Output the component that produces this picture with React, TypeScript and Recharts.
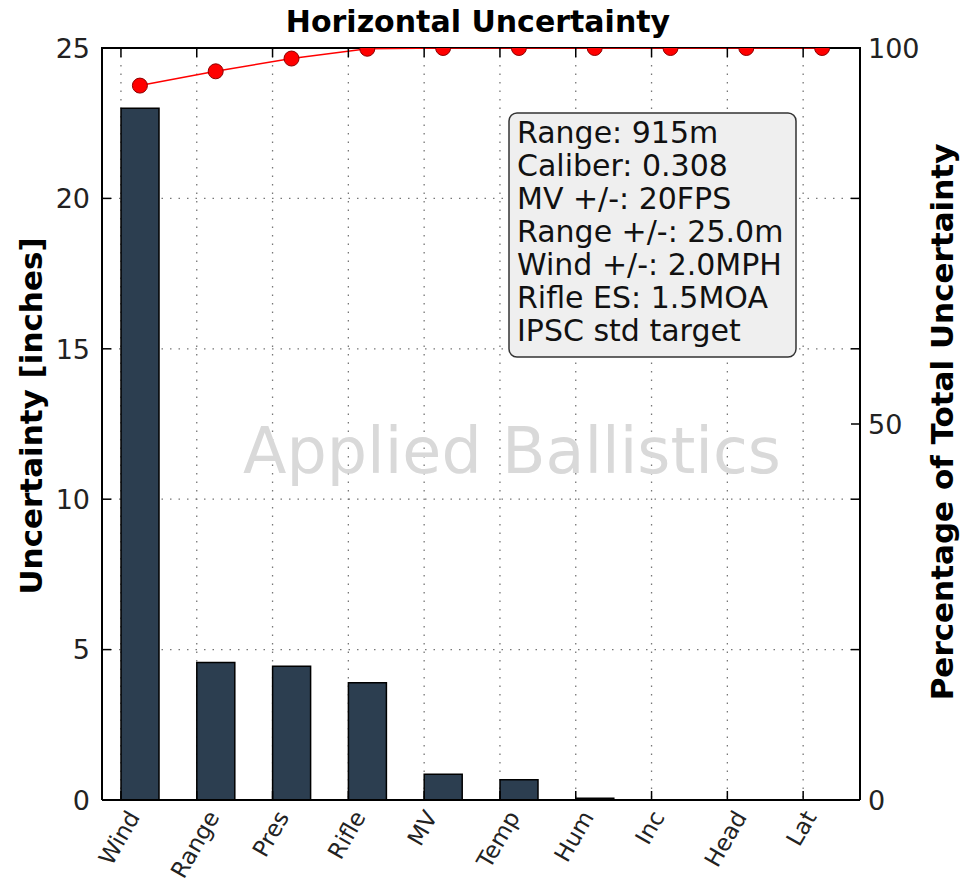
import React from 'react';
import {
  ComposedChart, Bar, Line, XAxis, YAxis, CartesianGrid, Customized,
} from 'recharts';

// ---- data ----
const categories = ['Wind', 'Range', 'Pres', 'Rifle', 'MV', 'Temp', 'Hum', 'Inc', 'Head', 'Lat'];
const uncertaintyInches = [23.0, 4.57, 4.45, 3.9, 0.86, 0.67, 0.06, 0.012, 0.008, 0.005];
const cumulativePercent = [95.0, 96.9, 98.6, 99.9, 100, 100, 100, 100, 100, 100];
const leftTicks = [0, 5, 10, 15, 20, 25];
const rightTicks = [0, 50, 100];
const infoLines = [
  'Range: 915m',
  'Caliber: 0.308',
  'MV +/-: 20FPS',
  'Range +/-: 25.0m',
  'Wind +/-: 2.0MPH',
  'Rifle ES: 1.5MOA',
  'IPSC std target',
];
const titleText = 'Horizontal Uncertainty';
const leftLabel = 'Uncertainty [inches]';
const rightLabel = 'Percentage of Total Uncertainty';
const watermark = 'Applied Ballistics';

const data = categories.map((name, i) => ({
  name,
  inches: uncertaintyInches[i],
  pct: cumulativePercent[i],
}));

// ---- layout ----
const W = 960;
const H = 884;
const PLOT_LEFT = 102;
const PLOT_RIGHT = 860;
const PLOT_TOP = 48;
const PLOT_BOTTOM = 800;
const PLOT_W = PLOT_RIGHT - PLOT_LEFT;
const BAND = PLOT_W / categories.length;
const FONT = '"DejaVu Sans", Verdana, sans-serif';
const XFS = 23;
const TICK_LEN = 9;

let ctx: CanvasRenderingContext2D | null = null;
function measure(text: string, size: number, weight = 'normal') {
  if (!ctx) {
    const c = document.createElement('canvas');
    ctx = c.getContext('2d');
  }
  if (!ctx) return text.length * size * 0.6;
  ctx.font = `${weight} ${size}px "DejaVu Sans"`;
  return ctx.measureText(text).width;
}

function XTick(props: any) {
  const { x, y, payload } = props;
  const tx = x - BAND / 4;
  const L = measure(String(payload.value), XFS);
  const a = 0.76 * XFS;
  const d = 0.24 * XFS;
  const ex = tx + 0.25 * L + 0.433 * (a - d);
  const ey = y + 0.5 * a;
  return (
    <g>
      <line x1={tx} y1={PLOT_BOTTOM} x2={tx} y2={PLOT_BOTTOM - TICK_LEN} stroke="#000" strokeWidth={1.5} />
      <line x1={tx} y1={PLOT_TOP} x2={tx} y2={PLOT_TOP + TICK_LEN} stroke="#000" strokeWidth={1.5} />
      <text
        x={ex}
        y={ey}
        textAnchor="end"
        transform={`rotate(-60 ${ex} ${ey})`}
        fontSize={XFS}
        fontFamily={FONT}
        fill="#222"
      >
        {payload.value}
      </text>
    </g>
  );
}

function LeftTick(props: any) {
  const { x, y, payload } = props;
  const v = payload.value;
  const inner = v !== 0 && v !== 25;
  return (
    <g>
      {inner && (
        <>
          <line x1={PLOT_LEFT} y1={y} x2={PLOT_LEFT + TICK_LEN} y2={y} stroke="#000" strokeWidth={1.5} />
          <line x1={PLOT_RIGHT} y1={y} x2={PLOT_RIGHT - TICK_LEN} y2={y} stroke="#000" strokeWidth={1.5} />
        </>
      )}
      <text x={x} y={y} dy="0.36em" textAnchor="end" fontSize={27} fontFamily={FONT} fill="#222">
        {v}
      </text>
    </g>
  );
}

function RightTick(props: any) {
  const { x, y, payload } = props;
  const v = payload.value;
  const inner = v !== 0 && v !== 100;
  return (
    <g>
      {inner && (
        <line x1={PLOT_RIGHT} y1={y} x2={PLOT_RIGHT - TICK_LEN} y2={y} stroke="#000" strokeWidth={1.5} />
      )}
      <text x={x} y={y} dy="0.36em" textAnchor="start" fontSize={27} fontFamily={FONT} fill="#222">
        {v}
      </text>
    </g>
  );
}

function ClippedDot(props: any) {
  const { cx, cy, index } = props;
  if (cx == null || cy == null) return null;
  return (
    <circle
      key={`dot-${index}`}
      cx={cx}
      cy={cy}
      r={7.5}
      fill="#ff0000"
      stroke="#8b0000"
      strokeWidth={1}
      clipPath="url(#plotAreaClip)"
    />
  );
}

function Decorations() {
  const boxX = 509;
  const boxY = 113;
  const lineH = 33;
  return (
    <g>
      <defs>
        <clipPath id="plotAreaClip">
          <rect x={PLOT_LEFT} y={PLOT_TOP} width={PLOT_W} height={PLOT_BOTTOM - PLOT_TOP} />
        </clipPath>
      </defs>
      <text
        x={512}
        y={473}
        textAnchor="middle"
        fontSize={63.5}
        fontFamily={FONT}
        fill="#d9d9d9"
      >
        {watermark}
      </text>
      <line x1={PLOT_LEFT - 1} y1={PLOT_TOP} x2={PLOT_RIGHT + 1} y2={PLOT_TOP} stroke="#000" strokeWidth={2} />
      <rect x={boxX} y={boxY} width={287} height={244} rx={8} ry={8} fill="#efefef" stroke="#333" strokeWidth={1.5} />
      {infoLines.map((t, i) => (
        <text key={i} x={boxX + 8} y={boxY + 30 + i * lineH} fontSize={30} fontFamily={FONT} fill="#111">
          {t}
        </text>
      ))}
      <text x={478} y={32} textAnchor="middle" fontSize={30} fontWeight="bold" fontFamily={FONT} fill="#000">
        {titleText}
      </text>
      <text
        x={42}
        y={416}
        textAnchor="middle"
        transform="rotate(-90 42 416)"
        fontSize={31}
        fontWeight="bold"
        fontFamily={FONT}
        fill="#000"
      >
        {leftLabel}
      </text>
      <text
        x={953}
        y={422}
        textAnchor="middle"
        transform="rotate(-90 953 422)"
        fontSize={31}
        fontWeight="bold"
        fontFamily={FONT}
        fill="#000"
      >
        {rightLabel}
      </text>
    </g>
  );
}

export default function App() {
  return (
    <div style={{ position: 'absolute', left: 0, top: 0, width: W, height: H, background: '#fff' }}>
      <ComposedChart
        width={W}
        height={H}
        data={data}
        margin={{ top: PLOT_TOP, right: W - PLOT_RIGHT - 60, bottom: 0, left: PLOT_LEFT - 60 }}
      >
        <CartesianGrid
          yAxisId="left"
          stroke="#777"
          strokeWidth={1.3}
          strokeDasharray="1.5 7"
          verticalCoordinatesGenerator={({ offset }: any) =>
            categories.map((_, i) => offset.left + (offset.width * (i + 0.25)) / categories.length)
          }
        />
        <Customized component={Decorations} />
        <XAxis
          dataKey="name"
          interval={0}
          height={84}
          tickSize={0}
          tickMargin={8}
          tickLine={false}
          axisLine={{ stroke: '#000', strokeWidth: 2 }}
          tick={<XTick />}
        />
        <YAxis
          yAxisId="left"
          orientation="left"
          width={60}
          domain={[0, 25]}
          ticks={leftTicks}
          tickSize={0}
          tickMargin={12}
          tickLine={false}
          axisLine={{ stroke: '#000', strokeWidth: 2 }}
          tick={<LeftTick />}
        />
        <YAxis
          yAxisId="right"
          orientation="right"
          width={60}
          domain={[0, 100]}
          allowDataOverflow
          ticks={rightTicks}
          tickSize={0}
          tickMargin={8}
          tickLine={false}
          axisLine={{ stroke: '#000', strokeWidth: 2 }}
          tick={<RightTick />}
        />
        <Bar
          yAxisId="left"
          dataKey="inches"
          barSize={Math.round(BAND / 2)}
          fill="#2c3e50"
          stroke="#000"
          strokeWidth={1.5}
          isAnimationActive={false}
        />
        <Line
          yAxisId="right"
          dataKey="pct"
          stroke="#ff0000"
          strokeWidth={1.5}
          dot={<ClippedDot />}
          isAnimationActive={false}
        />
      </ComposedChart>
    </div>
  );
}
